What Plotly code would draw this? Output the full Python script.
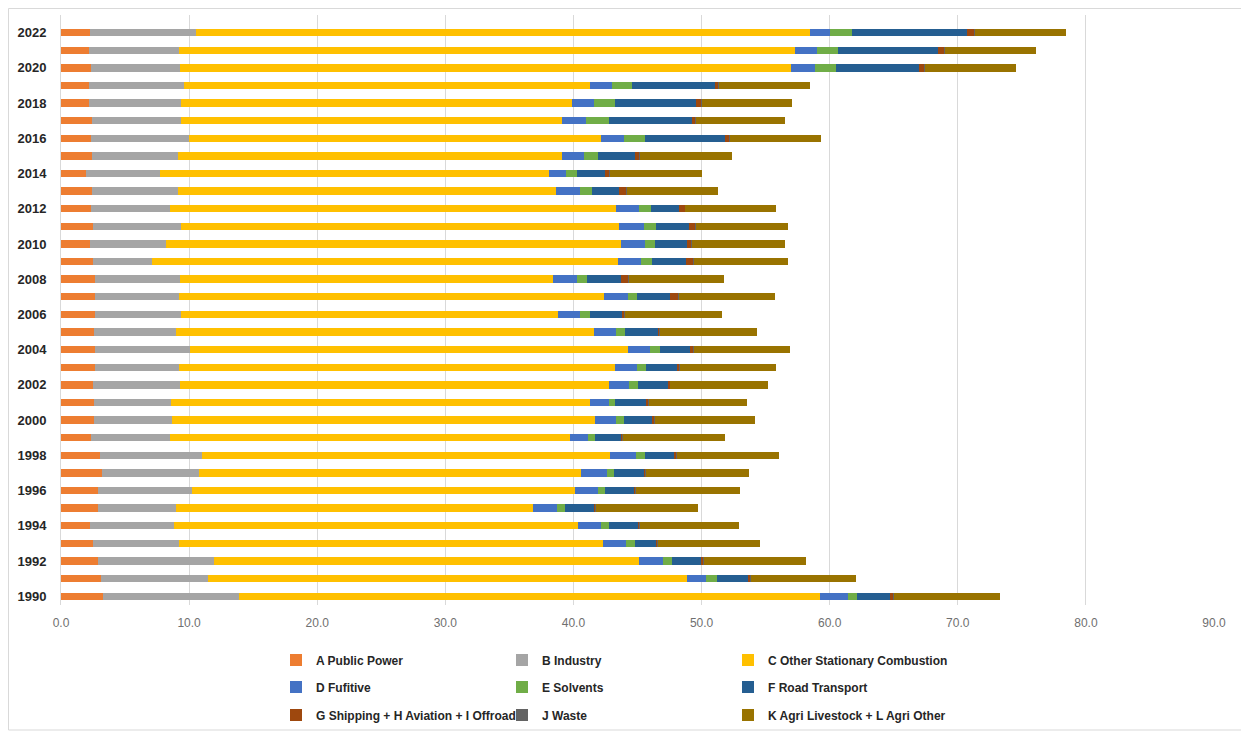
import plotly.graph_objects as go

years = list(range(1990, 2023))

a_public_power = [3.30, 3.15, 2.86, 2.50, 2.26, 2.86, 2.86, 3.23, 3.04, 2.34, 2.58, 2.58, 2.50, 2.65, 2.68, 2.58, 2.65,
                  2.65, 2.68, 2.50, 2.26, 2.50, 2.37, 2.42, 1.95, 2.39, 2.34, 2.39, 2.21, 2.21, 2.34, 2.21, 2.26]
b_industry = [10.62, 8.33, 9.08, 6.71, 6.59, 6.12, 7.39, 7.52, 7.94, 6.17, 6.09, 5.98, 6.79, 6.56, 7.36, 6.40, 6.72,
              6.56, 6.61, 4.60, 5.94, 6.84, 6.11, 6.71, 5.80, 6.72, 7.65, 7.00, 7.13, 7.42, 6.95, 7.00, 8.28]
c_other_stationary = [45.34, 37.38, 33.14, 33.10, 31.49, 27.85, 29.84, 29.87, 31.88, 31.21, 33.05, 32.70, 33.51, 34.05,
                      34.24, 32.65, 29.43, 33.19, 29.14, 36.41, 35.55, 34.23, 34.87, 29.52, 30.34, 30.00, 32.19, 29.75,
                      30.57, 31.63, 47.73, 48.11, 47.92]
d_fugitive = [2.19, 1.48, 1.94, 1.81, 1.78, 1.88, 1.82, 2.00, 2.03, 1.45, 1.63, 1.48, 1.57, 1.72, 1.72, 1.72, 1.75,
              1.82, 1.82, 1.75, 1.82, 1.97, 1.79, 1.90, 1.36, 1.69, 1.79, 1.84, 1.69, 1.72, 1.81, 1.70, 1.54]
e_solvents = [0.70, 0.83, 0.67, 0.71, 0.68, 0.64, 0.52, 0.58, 0.68, 0.55, 0.56, 0.52, 0.68, 0.65, 0.74, 0.71, 0.74,
              0.73, 0.83, 0.89, 0.77, 0.92, 0.95, 0.87, 0.83, 1.14, 1.60, 1.76, 1.66, 1.60, 1.63, 1.60, 1.72]
f_road_transport = [2.53, 2.43, 2.28, 1.66, 2.28, 2.28, 2.31, 2.28, 2.28, 2.00, 2.21, 2.46, 2.33, 2.43, 2.37, 2.56,
                    2.53, 2.62, 2.67, 2.62, 2.52, 2.56, 2.13, 2.15, 2.21, 2.83, 6.25, 6.52, 6.34, 6.50, 6.52, 7.81, 8.99]
g_shipping_aviation_offroad = [0.30, 0.25, 0.18, 0.06, 0.09, 0.12, 0.12, 0.18, 0.21, 0.13, 0.19, 0.13, 0.16, 0.19,
                               0.24, 0.12, 0.18, 0.61, 0.56, 0.58, 0.37, 0.49, 0.49, 0.55, 0.31, 0.37, 0.36, 0.28,
                               0.37, 0.24, 0.40, 0.52, 0.61]
j_waste = [0.03, 0.03, 0.03, 0.03, 0.03, 0.03, 0.03, 0.03, 0.03, 0.03, 0.03, 0.03, 0.03, 0.03, 0.03, 0.03, 0.03,
           0.03, 0.03, 0.03, 0.03, 0.03, 0.03, 0.03, 0.03, 0.03, 0.03, 0.03, 0.03, 0.03, 0.03, 0.03, 0.03]
k_agri = [8.25, 8.21, 7.94, 8.00, 7.75, 7.94, 8.09, 8.03, 7.94, 7.93, 7.81, 7.66, 7.60, 7.53, 7.54, 7.54, 7.60,
          7.54, 7.38, 7.39, 7.29, 7.23, 7.07, 7.11, 7.20, 7.17, 7.08, 6.98, 7.08, 7.14, 7.11, 7.15, 7.08]

series = [
    ("A Public Power", a_public_power, "#ED7D31", "legend"),
    ("B Industry", b_industry, "#A5A5A5", "legend"),
    ("C Other Stationary Combustion", c_other_stationary, "#FFC000", "legend"),
    ("D Fufitive", d_fugitive, "#4472C4", "legend2"),
    ("E Solvents", e_solvents, "#70AD47", "legend2"),
    ("F Road Transport", f_road_transport, "#255E91", "legend2"),
    ("G Shipping + H Aviation + I Offroad", g_shipping_aviation_offroad, "#9E480E", "legend3"),
    ("J Waste", j_waste, "#636363", "legend3"),
    ("K Agri Livestock + L Agri Other", k_agri, "#997300", "legend3"),
]

font_family = "Liberation Sans Narrow, Liberation Sans, Arial, sans-serif"

fig = go.Figure()
for name, vals, color, leg in series:
    fig.add_trace(go.Bar(
        y=years, x=vals, name=name, orientation="h",
        marker=dict(color=color, line=dict(width=0)),
        width=0.42, legend=leg,
    ))

W, H = 1241, 723
L, R, T, B = 53, 35, 7, 126
plot_w = W - L - R
plot_h = H - T - B

def py(pixel_y):
    return (H - B - pixel_y) / plot_h

def px(pixel_x):
    return (pixel_x - L) / plot_w

legend_common = dict(
    orientation="h", xanchor="left", yanchor="middle", x=px(268),
    font=dict(family=font_family, size=12, color="#262626", weight="bold"),
    itemwidth=30, entrywidth=181, bgcolor="rgba(0,0,0,0)", traceorder="normal",
)

fig.update_layout(
    width=W, height=H,
    barmode="stack", bargap=0.5,
    plot_bgcolor="white", paper_bgcolor="white",
    margin=dict(l=L, r=R, t=T, b=B, autoexpand=False),
    font=dict(family=font_family),
    xaxis=dict(
        range=[0, 90], dtick=10, tickformat=".1f",
        showgrid=True, gridcolor="#D9D9D9", gridwidth=1,
        zeroline=False, showline=False,
        tickfont=dict(family=font_family, size=12, color="#6F6F6F"),
        ticklabelstandoff=9,
    ),
    yaxis=dict(
        range=[1989.5, 2023.0], tick0=1990, dtick=2,
        showgrid=False, zeroline=False,
        showline=True, linecolor="#D9D9D9", linewidth=1,
        tickfont=dict(family=font_family, size=13, color="#262626", weight="bold"),
        ticklabelstandoff=11,
    ),
    legend=dict(legend_common, y=py(652)),
    legend2=dict(legend_common, y=py(679)),
    legend3=dict(legend_common, y=py(707)),
    shapes=[dict(
        type="rect", xref="paper", yref="paper",
        x0=px(0.5), x1=px(W - 1), y0=py(H - 1), y1=py(0.5),
        line=dict(color="#D9D9D9", width=1), fillcolor="rgba(0,0,0,0)", layer="below",
    )],
)

fig.write_html("out.html")
